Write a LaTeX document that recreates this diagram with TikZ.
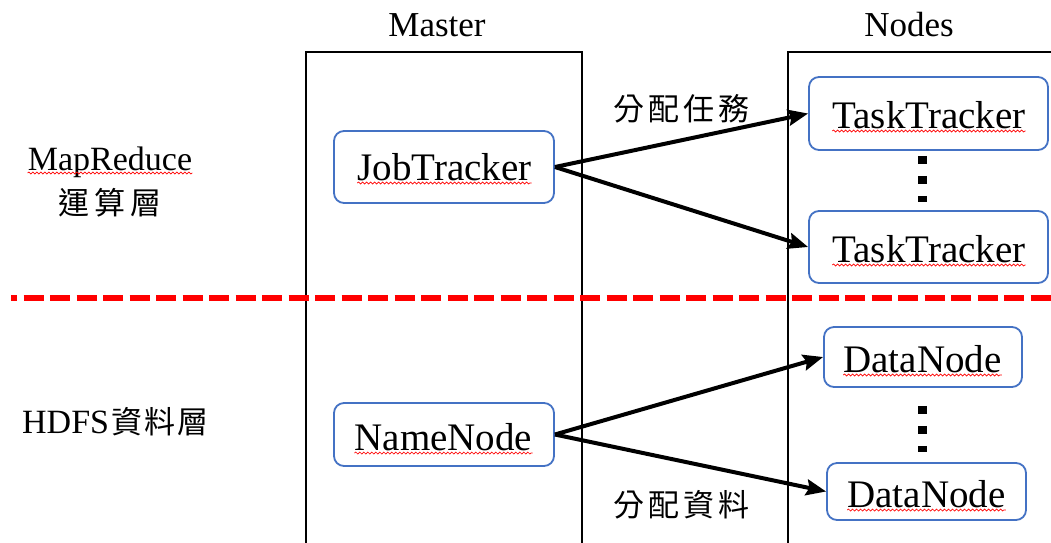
\documentclass[tikz,border=0pt]{standalone}
\usepackage{fontspec}
\setmainfont{Liberation Serif}
\newfontfamily\cjk{Noto Sans CJK TC}
\usetikzlibrary{arrows.meta,decorations.pathmorphing}
\definecolor{boxblue}{HTML}{4472C4}

\tikzset{
  panel/.style={draw=black, line width=1.8pt},
  box/.style={draw=boxblue, line width=1.8pt, rounded corners=10pt, fill=white, inner sep=0pt},
  word/.style={inner sep=0pt, anchor=base, font=\fontsize{39}{41}\selectfont},
  head/.style={inner sep=0pt, anchor=base, font=\fontsize{35}{38}\selectfont},
  side/.style={inner sep=0pt, font=\fontsize{34}{36}\selectfont},
  cjklabel/.style={inner sep=0pt, font=\fontsize{31}{33}\selectfont\cjk},
  link/.style={draw=black, line width=4pt, -{Stealth[length=20pt,width=16pt,inset=3pt]}},
  squig/.style={draw=red, line width=0.7pt, decorate,
    decoration={snake, segment length=4pt, amplitude=1pt}},
  vdots/.style={draw=black, line width=9pt, dash pattern=on 8pt off 12pt},
  layerline/.style={draw=red, line width=6.5pt, dash pattern=on 20pt off 6.5pt, dash phase=14pt}
}

\begin{document}
\begin{tikzpicture}[x=1pt, y=-1pt]
\useasboundingbox (0,0) rectangle (1051,542);
\clip (0,0) rectangle (1051,542);

% column frames (open at the bottom)
\draw[panel] (306,560) -- (306,52) -- (582,52) -- (582,560);
\draw[panel] (788,560) -- (788,52) -- (1070,52) -- (1070,560);

% column headings
\node[head] (master) at (437,36) {Master};
\node[head] (nodes) at (909,36) {Nodes};

% layer labels
\node[side, anchor=base] (mr) at (110,170) {MapReduce};
\node[cjklabel] (mrc) at (110,203) {運\hspace{5pt}算\hspace{5pt}層};
\node[inner sep=0pt, anchor=base west] (hdfs) at (22,433)
  {\fontsize{34}{36}\selectfont HDFS\hspace{2pt}\fontsize{31}{33}\selectfont\cjk 資\hspace{2pt}料\hspace{2pt}層};

% separator between the two layers
\draw[layerline] (11,298) -- (1060,298);

% boxes
\node[box, minimum width=220pt, minimum height=72pt] (jt)  at (444,167) {};
\node[box, minimum width=239pt, minimum height=73pt] (tt1) at (928.5,113.5) {};
\node[box, minimum width=239pt, minimum height=72pt] (tt2) at (928.5,247) {};
\node[box, minimum width=220pt, minimum height=63pt] (nn)  at (444,434.5) {};
\node[box, minimum width=198pt, minimum height=60pt] (dn1) at (923,357) {};
\node[box, minimum width=199pt, minimum height=57pt] (dn2) at (926.5,491.5) {};

% box texts
\node[word] (jtw)  at (444.5,180) {JobTracker};
\node[word] (tt1w) at (929,128) {TaskTracker};
\node[word] (tt2w) at (929,262) {TaskTracker};
\node[word] (nnw)  at (443.5,450) {NameNode};
\node[word] (dn1w) at (922.5,372) {DataNode};
\node[word] (dn2w) at (926.5,507) {DataNode};

% spelling squiggles under the words
\foreach \w in {mr, jtw, tt1w, tt2w, nnw, dn1w, dn2w}
  \draw[squig] ([yshift=-3pt]\w.base west) -- ([yshift=-3pt]\w.base east);

% ellipsis between repeated workers
\draw[vdots] ([xshift=-6pt, yshift=-5pt]tt1.south) -- ([xshift=-6pt, yshift=8pt]tt1.south |- tt2.north);
\draw[vdots] ([yshift=-18pt]dn1.south -| 922.5,0) -- ([yshift=10pt]dn2.north -| 922.5,0);

% task and data distribution
\draw[link] (jt.east) -- (tt1.west);
\draw[link] (jt.east) -- (tt2.west);
\draw[link] (nn.east) -- (dn1.west);
\draw[link] (nn.east) -- (dn2.west);

\node[cjklabel] (assign) at (681,109) {分\hspace{4pt}配\hspace{4pt}任\hspace{4pt}務};
\node[cjklabel] (place)  at (681,505) {分\hspace{4pt}配\hspace{4pt}資\hspace{4pt}料};
\end{tikzpicture}
\end{document}
